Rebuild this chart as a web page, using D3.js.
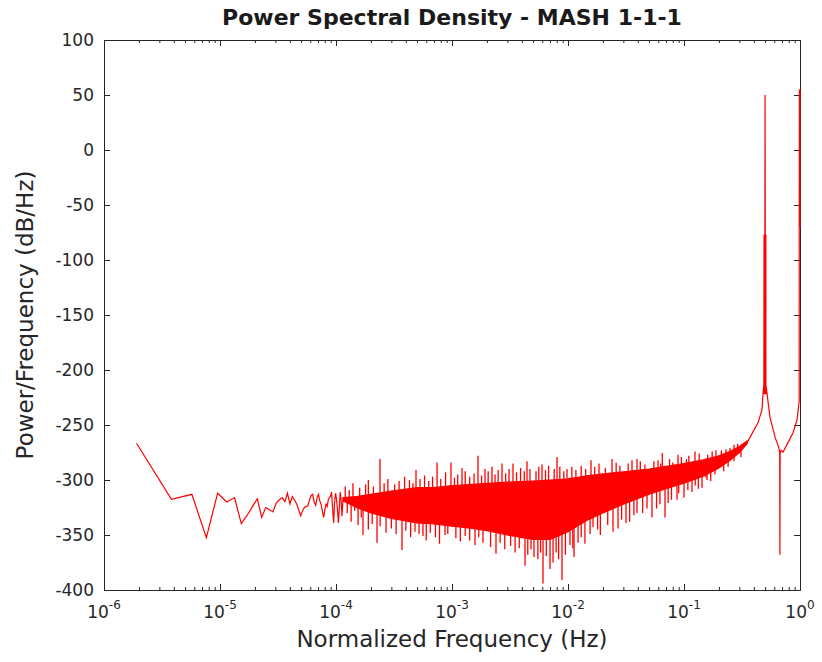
<!DOCTYPE html>
<html>
<head>
<meta charset="utf-8">
<script src="https://cdn.jsdelivr.net/npm/d3@7"></script>
<style>
  body { margin: 0; background: #fff; }
  .axis text { font-family: "DejaVu Sans", sans-serif; font-size: 17px; fill: #262626; }
  .axis path, .axis line { stroke: #262626; stroke-width: 1; }
</style>
</head>
<body>
<div id="chart"></div>
<script>
// FFT bin width (normalized frequency, N = 2^19)
const BIN_WIDTH = 1 / 524288;

// Low-frequency bins drawn point by point
const lowBins = [1, 2, 3, 4, 5, 6, 7, 8, 9, 10, 11, 12, 13, 14, 15, 16, 17, 18, 19, 20,
  21, 22, 23, 24, 25, 26, 27, 28, 29, 30, 31, 32, 33, 34, 35, 36, 37, 38, 39, 40,
  41, 42, 43, 44, 45, 46, 47, 48, 49, 50, 51, 52, 53, 54, 55, 56, 57, 58, 59, 60];
const lowDb = [-266.6, -317.6, -313, -352.4, -312, -320, -316, -339.7, -332, -324,
  -317, -334, -325, -327, -329, -321, -318, -316, -319.7, -312,
  -321.8, -315, -318, -321.8, -327, -332.5, -328, -325, -324, -323.6,
  -318, -314, -313, -320, -323, -316, -313, -319, -322, -328,
  -334, -327, -322, -324, -318, -316, -315, -311, -325, -339,
  -320, -312, -318, -327, -339, -325, -311, -318, -333, -320];

// Dense noise band: core envelope (dB)
const bandFreq = [1.15e-4, 1.5e-4, 2e-4, 3e-4, 5e-4, 7e-4, 1e-3, 1.5e-3, 2e-3, 3e-3, 5e-3, 7e-3,
  1e-2, 1.5e-2, 2e-2, 3e-2, 5e-2, 7e-2, 0.1, 0.15, 0.2, 0.25, 0.3, 0.35];
const bandTop = [-316, -315, -313, -310, -307, -307, -305, -304, -303, -302, -301, -300,
  -299, -296, -294.5, -292.5, -290, -287.5, -285, -281.5, -278, -274, -269.5, -264.5];
const bandBottom = [-319, -325, -330, -335, -339, -340, -342, -344, -346, -350, -354, -354,
  -347, -336, -330, -322, -313, -308, -303, -296, -289, -282, -275, -267];

// Tall spikes above the band
const spikeUpFreq = [2.395e-4, 4.894e-4, 7.43e-4, 9.8e-4, 1.22e-3, 1.675e-3, 1.925e-3, 2.212e-3,
  2.698e-3, 3.357e-3, 4.433e-3, 5.971e-3, 8.04e-3, 9.8e-3, 1.579e-2, 2.395e-2, 3.562e-2,
  3.933e-2, 5.971e-2, 6.5e-2, 8.88e-2, 0.1244, 0.1888, 0.2493];
const spikeUpDb = [-281, -291, -284, -284, -289, -278, -290, -288,
  -285, -285, -283, -286, -279, -290, -282, -281, -282,
  -281, -282, -275.5, -277, -274, -273, -271];

// Tall spikes below the band
const spikeDownFreq = [1.709e-4, 2.257e-4, 3.707e-4, 5.62e-4, 8.71e-4, 1.579e-3, 2.395e-3, 4.26e-3,
  5.09e-3, 6.09e-3, 7.43e-3, 8.88e-3, 1.04e-2, 1.127e-2, 1.22e-2, 1.643e-2, 2.443e-2,
  3.162e-2, 3.933e-2, 5.3e-2, 6.86e-2, 8.71e-2, 0.1172, 0.143, 0.1579];
const spikeDownDb = [-350, -357, -363.6, -351, -350, -359, -367, -378,
  -370, -394, -375, -391, -359, -370, -357, -343, -347,
  -339, -330, -334, -334, -318, -311, -307, -300];

// Short spikes giving the band its ragged upper edge
const ragUpFreq = [1.2e-4, 1.3e-4, 1.4e-4, 1.6e-4, 1.8e-4, 1.9e-4, 2.1e-4, 2.6e-4, 2.8e-4, 3.2e-4,
  3.5e-4, 3.9e-4, 4.3e-4, 4.6e-4, 5.3e-4, 5.8e-4, 6.3e-4, 6.8e-4, 8e-4, 8.8e-4,
  1.05e-3, 1.12e-3, 1.3e-3, 1.42e-3, 1.55e-3, 1.8e-3, 2.05e-3, 2.35e-3, 2.5e-3, 2.9e-3,
  3.1e-3, 3.6e-3, 3.9e-3, 4.2e-3, 4.7e-3, 5.3e-3, 5.6e-3, 6.4e-3, 6.8e-3, 7.6e-3,
  8.5e-3, 9.2e-3, 1.08e-2, 1.17e-2, 1.3e-2, 1.42e-2, 1.7e-2, 1.85e-2, 2.1e-2, 2.6e-2,
  2.8e-2, 3.3e-2, 4.2e-2, 4.6e-2, 5.5e-2, 6.3e-2, 7.5e-2, 8e-2, 9.5e-2, 0.105,
  0.11, 0.135, 0.16, 0.175, 0.21, 0.23, 0.27, 0.29];
const ragUpDb = [-306, -309, -303, -307, -304, -300, -306, -303, -299, -304,
  -301, -297, -300, -303, -299, -296, -301, -297, -299, -293,
  -298, -295, -292, -297, -294, -296, -292, -295, -291, -294,
  -290, -293, -289, -292, -290, -292, -288, -291, -287, -290,
  -288, -292, -288, -291, -287, -290, -288, -285, -289, -284,
  -287, -285, -283, -286, -283, -285, -281, -284, -279, -281,
  -278, -276, -277, -274, -273, -272, -268, -267];

// Short spikes giving the band its ragged lower edge
const ragDownFreq = [1.25e-4, 1.35e-4, 1.45e-4, 1.55e-4, 1.65e-4, 1.9e-4, 2.05e-4, 2.4e-4, 2.7e-4, 3e-4,
  3.3e-4, 4e-4, 4.4e-4, 4.8e-4, 5.2e-4, 6e-4, 6.5e-4, 7.2e-4, 7.8e-4, 9.2e-4,
  1.08e-3, 1.18e-3, 1.3e-3, 1.42e-3, 1.7e-3, 1.85e-3, 2.15e-3, 2.6e-3, 2.85e-3, 3.2e-3,
  3.5e-3, 3.8e-3, 4.5e-3, 4.8e-3, 5.5e-3, 5.8e-3, 6.5e-3, 7e-3, 7.9e-3, 8.3e-3,
  9.5e-3, 1.1e-2, 1.3e-2, 1.4e-2, 1.55e-2, 1.8e-2, 1.9e-2, 2.2e-2, 2.7e-2, 2.9e-2,
  3.4e-2, 3.7e-2, 4.4e-2, 4.8e-2, 5.8e-2, 6.2e-2, 7.3e-2, 7.8e-2, 9e-2, 0.1,
  0.108, 0.125, 0.133, 0.155, 0.17, 0.185, 0.22, 0.24, 0.27, 0.31];
const ragDownDb = [-330, -338, -328, -341, -334, -345, -340, -342, -348, -344,
  -349, -346, -352, -347, -349, -355, -348, -352, -358, -349,
  -353, -356, -351, -355, -352, -357, -361, -357, -363, -360,
  -366, -362, -368, -363, -372, -366, -369, -381, -366, -372,
  -368, -362, -352, -358, -349, -345, -350, -341, -344, -336,
  -338, -332, -330, -326, -326, -322, -321, -318, -312, -316,
  -309, -305, -308, -298, -301, -295, -292, -288, -283, -279];

// Tones near 0.5 and 1.0
const peakFreq = [0.35, 0.4343, 0.4704, 0.48, 0.488, 0.49, 0.4905, 0.493, 0.4935, 0.496, 0.4965,
  0.498, 0.5, 0.502, 0.5025, 0.505, 0.5055, 0.508, 0.5085, 0.511,
  0.5193, 0.5513, 0.6094, 0.659, 0.668, 0.671, 0.674, 0.686, 0.714, 0.788, 0.871,
  0.942, 0.975, 0.984, 0.985, 0.988, 0.989, 0.992, 0.993, 0.996, 0.997, 1, 1];
const peakDb = [-266, -248, -236, -221, -214, -77, -222, -77, -222, -77, -222,
  -77, 50, -77, -222, -77, -222, -77, -222, -215,
  -221, -243, -261, -271, -275, -368, -276, -273, -274.5, -266, -257,
  -245.5, -232, -228, -70, 55, -70, 55, -70, 55, -70, 55, -70];

const majorX = [1e-6, 1e-5, 1e-4, 1e-3, 1e-2, 1e-1, 1];
const expLabels = ["-6", "-5", "-4", "-3", "-2", "-1", "0"];
const yTicks = [100, 50, 0, -50, -100, -150, -200, -250, -300, -350, -400];

const width = 822, height = 662;
const plot = { left: 104, right: 800, top: 40, bottom: 590 };
const red = "#ff0000";

const svg = d3.select("#chart").append("svg")
  .attr("width", width)
  .attr("height", height);

svg.append("rect").attr("width", width).attr("height", height).attr("fill", "#fff");

const x = d3.scaleLog().domain([1e-6, 1]).range([plot.left, plot.right]);
const y = d3.scaleLinear().domain([-400, 100]).range([plot.bottom, plot.top]);

// minor ticks 2..9 per decade
const minorX = [];
majorX.slice(0, -1).forEach(d => {
  for (let m = 2; m <= 9; m++) minorX.push(d * m);
});

// Axes (ticks point inward, box on)
const axes = svg.append("g");

axes.append("g").attr("class", "axis")
  .attr("transform", `translate(0,${plot.bottom})`)
  .call(d3.axisBottom(x).tickValues(minorX).tickSize(-3).tickSizeOuter(0).tickFormat(""));
const bottomAxis = axes.append("g").attr("class", "axis")
  .attr("transform", `translate(0,${plot.bottom})`)
  .call(d3.axisBottom(x).tickValues(majorX).tickSize(-6).tickSizeOuter(0).tickFormat(""));

axes.append("g").attr("class", "axis")
  .attr("transform", `translate(0,${plot.top})`)
  .call(d3.axisTop(x).tickValues(minorX).tickSize(-3).tickSizeOuter(0).tickFormat(""));
axes.append("g").attr("class", "axis")
  .attr("transform", `translate(0,${plot.top})`)
  .call(d3.axisTop(x).tickValues(majorX).tickSize(-6).tickSizeOuter(0).tickFormat(""));

axes.append("g").attr("class", "axis")
  .attr("transform", `translate(${plot.left},0)`)
  .call(d3.axisLeft(y).tickValues(yTicks).tickSize(-6).tickSizeOuter(0).tickPadding(10)
    .tickFormat(d => String(d)));
axes.append("g").attr("class", "axis")
  .attr("transform", `translate(${plot.right},0)`)
  .call(d3.axisRight(y).tickValues(yTicks).tickSize(-6).tickSizeOuter(0).tickFormat(""));

// 10^n labels
const xLabels = bottomAxis.selectAll(".xlab")
  .data(majorX)
  .enter()
  .append("text")
  .attr("class", "xlab")
  .attr("x", d => x(d))
  .attr("y", 28)
  .attr("text-anchor", "middle");
xLabels.append("tspan").text("10");
xLabels.append("tspan")
  .attr("dy", -9)
  .style("font-size", "12px")
  .text((d, i) => expLabels[i]);

// Data
const data = svg.append("g");

const line = d3.line()
  .x(d => x(d[0]))
  .y(d => y(d[1]));

data.append("path")
  .datum(lowBins.map((k, i) => [k * BIN_WIDTH, lowDb[i]]))
  .attr("d", line)
  .attr("fill", "none")
  .attr("stroke", red)
  .attr("stroke-width", 1.2);

const band = bandFreq.map((f, i) => ({ f, top: bandTop[i], bottom: bandBottom[i] }));
data.append("path")
  .datum(band)
  .attr("d", d3.area()
    .x(d => x(d.f))
    .y0(d => y(d.bottom))
    .y1(d => y(d.top)))
  .attr("fill", red)
  .attr("stroke", red)
  .attr("stroke-width", 1.2);

// link low bins to band
data.append("path")
  .datum([[lowBins[lowBins.length - 1] * BIN_WIDTH, lowDb[lowDb.length - 1]], [bandFreq[0], (bandTop[0] + bandBottom[0]) / 2]])
  .attr("d", line)
  .attr("stroke", red)
  .attr("stroke-width", 1.2);

const coreTop = d3.scaleLog().domain(bandFreq).range(bandTop).clamp(true);
const coreBottom = d3.scaleLog().domain(bandFreq).range(bandBottom).clamp(true);

function drawSpikes(freqs, dbs, edge, cls, shift) {
  data.selectAll("." + cls)
    .data(freqs.map((f, i) => [f, dbs[i]]))
    .enter()
    .append("line")
    .attr("class", cls)
    .attr("x1", d => x(d[0]))
    .attr("x2", d => x(d[0]))
    .attr("y1", d => y(d[1]))
    .attr("y2", d => y(edge(d[0])) + shift)
    .attr("stroke", red)
    .attr("stroke-width", 1.3);
}

drawSpikes(ragUpFreq, ragUpDb, coreTop, "rag-up", 2);
drawSpikes(ragDownFreq, ragDownDb, coreBottom, "rag-down", -2);
drawSpikes(spikeUpFreq, spikeUpDb, coreTop, "spike-up", 2);
drawSpikes(spikeDownFreq, spikeDownDb, coreBottom, "spike-down", -2);

data.append("path")
  .datum(peakFreq.map((f, i) => [f, peakDb[i]]))
  .attr("d", line)
  .attr("fill", "none")
  .attr("stroke", red)
  .attr("stroke-width", 1.2);

// Titles
svg.append("text")
  .attr("x", (plot.left + plot.right) / 2)
  .attr("y", 25)
  .attr("text-anchor", "middle")
  .style("font-family", "'DejaVu Sans', sans-serif")
  .style("font-size", "22px")
  .style("font-weight", "bold")
  .style("fill", "#1a1a1a")
  .text("Power Spectral Density - MASH 1-1-1");

svg.append("text")
  .attr("x", (plot.left + plot.right) / 2)
  .attr("y", 647)
  .attr("text-anchor", "middle")
  .style("font-family", "'DejaVu Sans', sans-serif")
  .style("font-size", "23px")
  .style("fill", "#262626")
  .text("Normalized Frequency (Hz)");

svg.append("text")
  .attr("transform", `translate(33,${(plot.top + plot.bottom) / 2}) rotate(-90)`)
  .attr("text-anchor", "middle")
  .style("font-family", "'DejaVu Sans', sans-serif")
  .style("font-size", "23px")
  .style("fill", "#262626")
  .text("Power/Frequency (dB/Hz)");
</script>
</body>
</html>
